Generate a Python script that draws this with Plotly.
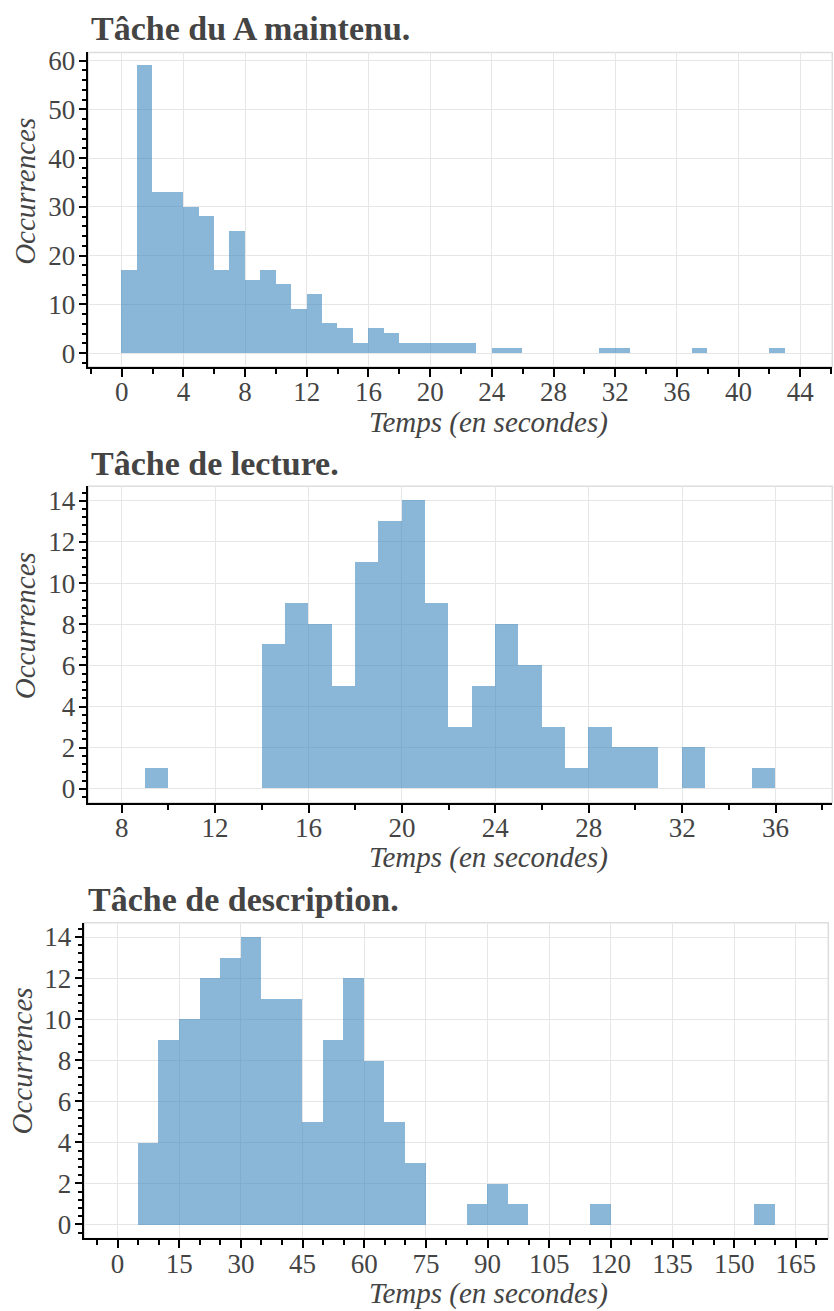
import plotly.graph_objects as go

W, H = 834, 1311

# ---- data (bin starts, counts) ----
maint_bin_start = [0, 1, 2, 3, 4, 5, 6, 7, 8, 9, 10, 11, 12, 13, 14, 15, 16, 17, 18, 19, 20, 21, 22,
                   24, 25, 31, 32, 37, 42]
maint_counts = [17, 59, 33, 33, 30, 28, 17, 25, 15, 17, 14, 9, 12, 6, 5, 2, 5, 4, 2, 2, 2, 2, 2,
                1, 1, 1, 1, 1, 1]
maint_bin_width = 1

lect_bin_start = [9, 14, 15, 16, 17, 18, 19, 20, 21, 22, 23, 24, 25, 26, 27, 28, 29, 30, 32, 35]
lect_counts = [1, 7, 9, 8, 5, 11, 13, 14, 9, 3, 5, 8, 6, 3, 1, 3, 2, 2, 2, 1]
lect_bin_width = 1

desc_bin_start = [5, 10, 15, 20, 25, 30, 35, 40, 45, 50, 55, 60, 65, 70, 85, 90, 95, 115, 155]
desc_counts = [4, 9, 10, 12, 13, 14, 11, 11, 5, 9, 12, 8, 5, 3, 1, 2, 1, 1, 1]
desc_bin_width = 5

titles = ["Tâche du A maintenu.", "Tâche de lecture.", "Tâche de description."]
x_title = "Temps (en secondes)"
y_title = "Occurrences"

SERIF = "Liberation Serif"
TXT = "#444444"
BAR = "rgba(60,135,190,0.6)"
GRID = "#e6e6e6"


def px_x(p):
    return p / W


def px_y(p):
    return 1 - p / H


panels = [
    dict(starts=maint_bin_start, counts=maint_counts, bw=maint_bin_width,
         xpx=(88.3, 832.3), ypx=(46.7, 363.0), xr=[-2.17, 46.08], yr=[-2.8, 61.7],
         xd=4, xminor=2, yd=10, yminor=2,
         title_y=22.5, title_x=89, xt_y=419, yt_x=25, yt_y=187),
    dict(starts=lect_bin_start, counts=lect_counts, bw=lect_bin_width,
         xpx=(88.3, 832.3), ypx=(483.3, 801.7), xr=[6.57, 38.43], yr=[-0.68, 14.7],
         xd=4, xminor=2, yd=2, yminor=0.4,
         title_y=460, title_x=89, xt_y=857, yt_x=25, yt_y=624),
    dict(starts=desc_bin_start, counts=desc_counts, bw=desc_bin_width,
         xpx=(84.3, 828.3), ypx=(922.3, 1240.0), xr=[-8.1, 172.9], yr=[-0.68, 14.7],
         xd=15, xminor=5, yd=2, yminor=0.4,
         title_y=899, title_x=86, xt_y=1295, yt_x=22, yt_y=1062),
]

fig = go.Figure()
annotations = []
shapes = []
layout = {}

for i, p in enumerate(panels):
    n = i + 1
    xa = "x" if n == 1 else f"x{n}"
    ya = "y" if n == 1 else f"y{n}"
    xkey = "xaxis" if n == 1 else f"xaxis{n}"
    ykey = "yaxis" if n == 1 else f"yaxis{n}"

    centers = [s + p["bw"] / 2 for s in p["starts"]]
    fig.add_trace(go.Bar(
        x=centers, y=p["counts"], width=[p["bw"]] * len(centers),
        marker=dict(color=BAR, line=dict(width=0)),
        xaxis=xa, yaxis=ya, showlegend=False, hoverinfo="x+y",
    ))

    axis_common = dict(
        showline=True, linecolor="black", linewidth=1.5,
        ticks="outside", tickcolor="black", tickwidth=1.5, ticklen=8,
        showgrid=True, gridcolor=GRID, gridwidth=1, zeroline=False,
        tickfont=dict(family=SERIF, size=27, color=TXT),
        tick0=0,
    )
    layout[xkey] = dict(
        axis_common,
        domain=[px_x(p["xpx"][0]), px_x(p["xpx"][1])],
        anchor=ya, range=p["xr"], dtick=p["xd"],
        ticklabelstandoff=-8,
        minor=dict(dtick=p["xminor"], tick0=0, ticks="outside", ticklen=5,
                   tickcolor="black", tickwidth=1.5, showgrid=False),
    )
    layout[ykey] = dict(
        axis_common,
        domain=[px_y(p["ypx"][1]), px_y(p["ypx"][0])],
        anchor=xa, range=p["yr"], dtick=p["yd"],
        ticklabelstandoff=-2,
        minor=dict(dtick=p["yminor"], tick0=0, ticks="outside", ticklen=5,
                   tickcolor="black", tickwidth=1.5, showgrid=False),
    )

    shapes.append(dict(
        type="rect", xref=f"{xa} domain", yref=f"{ya} domain",
        x0=0, x1=1, y0=0, y1=1, line=dict(color="#dddddd", width=1.5),
        layer="below",
    ))

    annotations.append(dict(
        text=f"<b>{titles[i]}</b>", xref="paper", yref="paper",
        x=px_x(p["title_x"]), y=px_y(p["title_y"]), xanchor="left", yanchor="middle",
        showarrow=False, font=dict(family=SERIF, size=34, color=TXT),
    ))
    annotations.append(dict(
        text=f"<i>{x_title}</i>", xref="paper", yref="paper",
        x=px_x(488), y=px_y(p["xt_y"]), xanchor="center", yanchor="middle",
        showarrow=False, font=dict(family=SERIF, size=29, color=TXT),
    ))
    annotations.append(dict(
        text=f"<i>{y_title}</i>", xref="paper", yref="paper",
        x=px_x(p["yt_x"]), y=px_y(p["yt_y"]), xanchor="center", yanchor="middle",
        textangle=-90, showarrow=False, font=dict(family=SERIF, size=29, color=TXT),
    ))

fig.update_layout(
    width=W, height=H,
    margin=dict(l=0, r=0, t=0, b=0),
    paper_bgcolor="white", plot_bgcolor="white",
    bargap=0, barmode="overlay",
    annotations=annotations, shapes=shapes,
    **layout,
)

fig.write_html("out.html")
